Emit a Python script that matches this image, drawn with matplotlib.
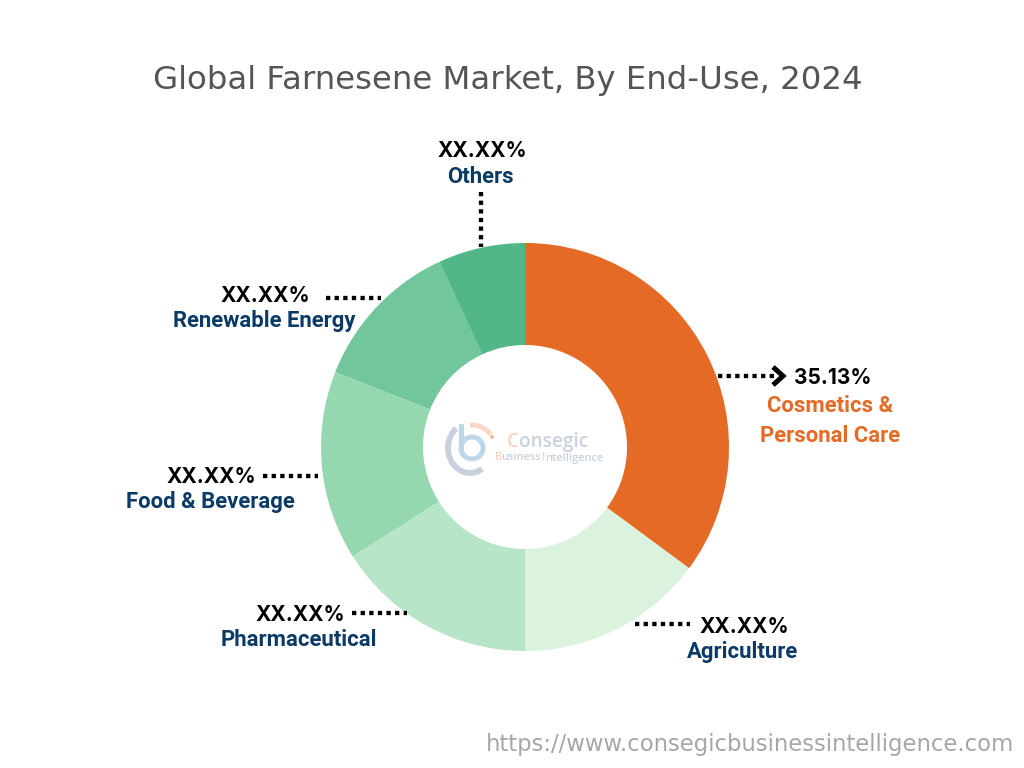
import matplotlib
matplotlib.use("Agg")
import matplotlib.pyplot as plt
from matplotlib.patches import Arc, Circle

# slice shares, clockwise from 12 o'clock
segments = ["Cosmetics & Personal Care", "Agriculture", "Pharmaceutical",
            "Food & Beverage", "Renewable Energy", "Others"]
shares = [35.13, 14.87, 16.0, 15.0, 12.1, 6.9]
colors = ["#E46A25", "#DBF2DF", "#B7E5C8", "#95D8B0", "#72C69C", "#52B788"]

NAVY = "#0B3A66"
ORANGE = "#E46A25"
H = 768


def Y(y):
    # reference pixel rows -> data coords
    return H - y


def value(ax, x, y, s):
    ax.text(x, Y(y + 2), s, color="black", fontsize=15, fontweight="bold",
            family="Inter", ha="center", va="center")


def label(ax, x, y, s, color=NAVY):
    ax.text(x, Y(y + 2), s, color=color, fontsize=15.9, fontweight="bold",
            family="Roboto", ha="center", va="center")


def dots(ax, x0, y0, x1, y1):
    ax.plot([x0, x1], [Y(y0), Y(y1)], color="black", lw=3.1,
            ls=(0, (1, 1)), dash_capstyle="butt")


fig = plt.figure(figsize=(10.24, 7.68), dpi=100)
ax = fig.add_axes([0, 0, 1, 1])

ax.pie(shares, colors=colors, startangle=90, counterclock=False,
       center=(525, Y(447)), radius=204, frame=True,
       wedgeprops=dict(width=102, linewidth=0))
ax.set_xlim(0, 1024)
ax.set_ylim(0, H)
ax.set_aspect("equal")
ax.axis("off")

ax.text(508, Y(80), "Global Farnesene Market, By End-Use, 2024", color="#555555",
        fontsize=23.35, family="DejaVu Sans", ha="center", va="center")

# leader lines
dots(ax, 718, 376, 778, 376)
ax.plot([773, 783, 773], [Y(367), Y(376), Y(385)], color="black", lw=3.6,
        solid_capstyle="butt", solid_joinstyle="miter")
dots(ax, 635, 624, 690, 624)
dots(ax, 352, 613, 407, 613)
dots(ax, 263, 476, 318, 476)
dots(ax, 326, 298, 381, 298)
dots(ax, 481, 192, 481, 247)

# value labels
value(ax, 833, 376, "35.13%")
value(ax, 744, 625, "XX.XX%")
value(ax, 300, 613, "XX.XX%")
value(ax, 211, 475, "XX.XX%")
value(ax, 265, 294, "XX.XX%")
value(ax, 482, 149, "XX.XX%")

# category labels
label(ax, 830, 404, "Cosmetics &", ORANGE)
label(ax, 830, 434, "Personal Care", ORANGE)
label(ax, 743, 650, segments[1])
label(ax, 299, 638, segments[2])
label(ax, 210, 500, segments[3])
label(ax, 264, 319, segments[4])
label(ax, 480, 175, segments[5])

# faint logo in the hole
ax.add_patch(Arc((470, Y(448)), 44, 50, theta1=125, theta2=300,
                 color="#C7D0DC", lw=4.2))
ax.add_patch(Circle((472, Y(448)), 11, fill=False, ec="#BDD7E8", lw=3.6))
ax.plot([461, 461], [Y(426), Y(448)], color="#BDD7E8", lw=3.6)
ax.add_patch(Arc((472, Y(448)), 46, 46, theta1=35, theta2=95,
                 color="#F8D5C4", lw=3.4))
ax.add_patch(Circle((492, Y(437)), 2, fc="#F2B89C", ec="none"))
ax.text(507, Y(442), "C", color="#F8D5C4", fontsize=13.7, family="Open Sans",
        va="center", fontweight="semibold")
ax.text(519, Y(442), "onsegic", color="#C9D1DD", fontsize=13.7, family="Open Sans",
        va="center", fontweight="semibold")
ax.text(495, Y(458), "B", color="#F8D5C4", fontsize=7.9, family="Open Sans",
        va="center", fontweight="semibold")
ax.text(501, Y(458), "usiness", color="#C9D1DD", fontsize=7.9, family="Open Sans",
        va="center", fontweight="semibold")
ax.text(542, Y(458), "I", color="#F8D5C4", fontsize=7.9, family="Open Sans",
        va="center", fontweight="semibold")
ax.text(545, Y(458), "ntelligence", color="#C9D1DD", fontsize=7.9,
        family="Open Sans", va="center", fontweight="semibold")

# site url
ax.text(1014, Y(744), "https://www.consegicbusinessintelligence.com",
        color="#A6A6A6", fontsize=16.4, family="DejaVu Sans", ha="right",
        va="center")

fig.savefig("out.png", dpi=100)
